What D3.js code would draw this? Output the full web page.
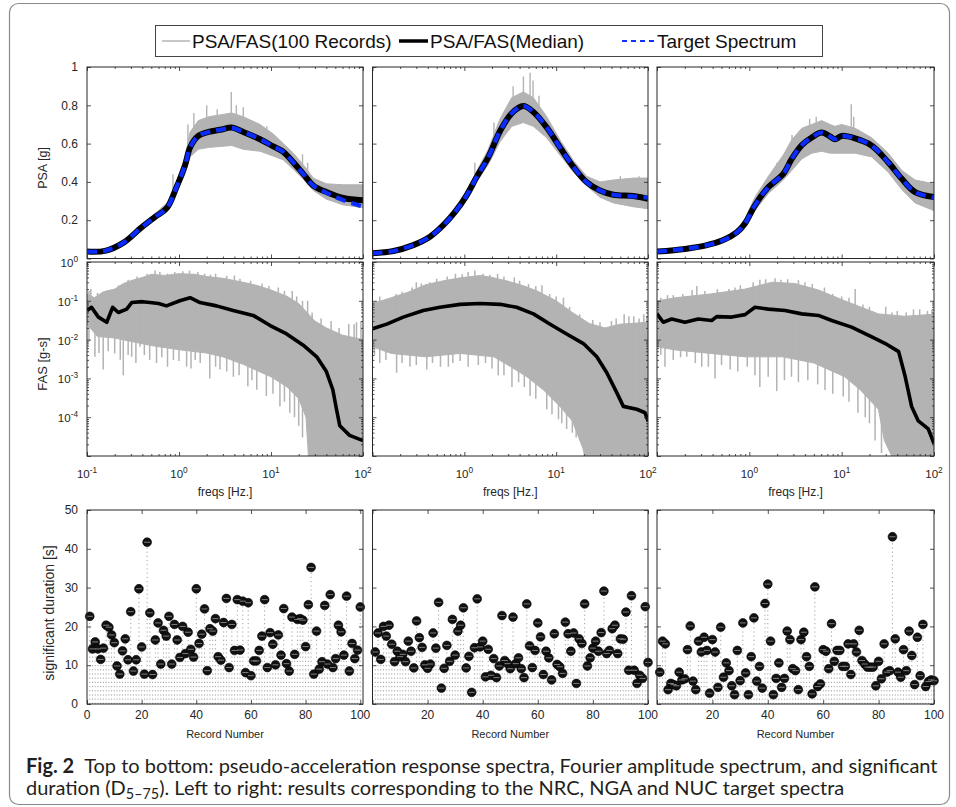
<!DOCTYPE html>
<html><head><meta charset="utf-8">
<script src="https://cdn.jsdelivr.net/npm/d3@7/dist/d3.min.js"></script>
<style>
body{margin:0;background:#fff}
svg{display:block}
text{font-family:"Liberation Sans",Arial,sans-serif}
</style>
</head><body>
<svg id="c" width="956" height="807"></svg>
<script>
// ---------------- DATA ----------------
const panelNames = ["NRC", "NGA", "NUC"];
const legendLabels = ["PSA/FAS(100 Records)", "PSA/FAS(Median)", "Target Spectrum"];
const psaTicks = [0, 0.2, 0.4, 0.6, 0.8, 1];
const psaTickLabels = ["", "0.2", "0.4", "0.6", "0.8", "1"]; // "0" merges with the 10^0 label below
const fasYTickExp = [0, -1, -2, -3, -4];
const freqTickExp = [-1, 0, 1, 2];
const durTicks = [0, 10, 20, 30, 40, 50];
const recTicks = [0, 20, 40, 60, 80, 100];

// PSA (NRC)
const psaFreqNRC = [0.1, 0.157, 0.25, 0.38, 0.55, 0.74, 0.94, 1.16, 1.32, 1.62, 2.1, 2.8, 3.75, 5.0, 7.6, 10.6, 13.6, 17.5, 22.4, 28.8, 40, 61, 100];
const psaMedNRC = [0.036, 0.040, 0.083, 0.157, 0.217, 0.264, 0.373, 0.485, 0.58, 0.64, 0.661, 0.672, 0.684, 0.661, 0.623, 0.585, 0.557, 0.502, 0.442, 0.381, 0.347, 0.316, 0.304];
const psaTgtNRC = [0.036, 0.040, 0.083, 0.157, 0.217, 0.264, 0.373, 0.485, 0.58, 0.64, 0.661, 0.672, 0.682, 0.661, 0.623, 0.585, 0.557, 0.502, 0.442, 0.381, 0.343, 0.305, 0.27];
const psaLowNRC = [0.034, 0.038, 0.078, 0.15, 0.205, 0.25, 0.35, 0.44, 0.53, 0.57, 0.58, 0.585, 0.59, 0.57, 0.56, 0.535, 0.515, 0.465, 0.415, 0.355, 0.31, 0.28, 0.265];
const psaHighNRC = [0.038, 0.043, 0.09, 0.17, 0.235, 0.29, 0.40, 0.53, 0.66, 0.72, 0.74, 0.75, 0.76, 0.74, 0.70, 0.65, 0.60, 0.55, 0.49, 0.42, 0.39, 0.385, 0.385];
const psaSpikeNRC = [[0.86, 0.44], [1.25, 0.7], [1.45, 0.76], [2.0, 0.80], [2.6, 0.78], [3.7, 0.87], [4.2, 0.8], [5.0, 0.79], [9, 0.69], [22, 0.545], [25, 0.5]];

// PSA (NGA)
const psaFreqNGA = [0.1, 0.169, 0.278, 0.423, 0.59, 0.793, 1.06, 1.36, 1.82, 2.45, 3.28, 4.39, 5.65, 7.9, 11, 15.5, 21.4, 30, 42, 69.5, 100];
const psaMedNGA = [0.027, 0.039, 0.07, 0.114, 0.174, 0.243, 0.33, 0.425, 0.528, 0.666, 0.758, 0.796, 0.765, 0.684, 0.58, 0.477, 0.399, 0.355, 0.333, 0.326, 0.312];
const psaTgtNGA = [0.027, 0.039, 0.07, 0.114, 0.174, 0.243, 0.33, 0.425, 0.528, 0.666, 0.758, 0.796, 0.765, 0.684, 0.58, 0.477, 0.399, 0.355, 0.333, 0.324, 0.318];
const psaLowNGA = [0.026, 0.037, 0.066, 0.108, 0.165, 0.23, 0.31, 0.40, 0.49, 0.61, 0.69, 0.71, 0.69, 0.63, 0.54, 0.45, 0.38, 0.32, 0.29, 0.27, 0.26];
const psaHighNGA = [0.029, 0.042, 0.075, 0.122, 0.185, 0.26, 0.355, 0.455, 0.57, 0.73, 0.84, 0.87, 0.84, 0.74, 0.62, 0.51, 0.43, 0.40, 0.41, 0.42, 0.42];
const psaSpikeNGA = [[1.3, 0.5], [2.1, 0.71], [3.4, 0.9], [4.4, 0.95], [5.2, 0.97], [5.6, 0.93], [6.5, 0.85], [50, 0.43], [80, 0.43]];

// PSA (NUC)
const psaFreqNUC = [0.1, 0.201, 0.331, 0.523, 0.73, 0.898, 1.15, 1.61, 2.33, 2.88, 3.7, 4.74, 6.08, 7.48, 8.47, 10, 14, 21.2, 32, 44.8, 62.4, 100];
const psaMedNUC = [0.036, 0.05, 0.067, 0.096, 0.136, 0.183, 0.278, 0.373, 0.442, 0.52, 0.592, 0.632, 0.658, 0.637, 0.623, 0.64, 0.627, 0.589, 0.502, 0.416, 0.347, 0.321];
const psaTgtNUC = [0.036, 0.05, 0.067, 0.096, 0.136, 0.183, 0.278, 0.373, 0.442, 0.52, 0.592, 0.632, 0.658, 0.637, 0.623, 0.64, 0.627, 0.589, 0.502, 0.416, 0.347, 0.318];
const psaLowNUC = [0.034, 0.047, 0.063, 0.09, 0.125, 0.165, 0.25, 0.34, 0.41, 0.46, 0.52, 0.55, 0.56, 0.55, 0.55, 0.55, 0.55, 0.53, 0.45, 0.36, 0.29, 0.25];
const psaHighNUC = [0.038, 0.053, 0.072, 0.104, 0.15, 0.21, 0.32, 0.43, 0.54, 0.62, 0.68, 0.70, 0.72, 0.70, 0.69, 0.70, 0.68, 0.63, 0.55, 0.46, 0.41, 0.39];
const psaSpikeNUC = [[1.3, 0.36], [2.0, 0.5], [2.9, 0.645], [4.5, 0.73], [5.3, 0.74], [12.7, 0.805], [13.5, 0.74]];

// FAS (NRC)
const fasMedFreqNRC = [0.1, 0.112, 0.133, 0.164, 0.19, 0.219, 0.27, 0.306, 0.4, 0.484, 0.6, 0.73, 1.02, 1.32, 1.69, 2.56, 3.88, 6.4, 9.8, 14.8, 22.4, 31.4, 40, 47, 51.5, 56, 71.5, 100];
const fasMedNRC = [0.056, 0.068, 0.038, 0.028, 0.068, 0.05, 0.061, 0.09, 0.095, 0.09, 0.085, 0.074, 0.1, 0.12, 0.09, 0.074, 0.056, 0.042, 0.023, 0.014, 0.0072, 0.0036, 0.0015, 0.00051, 0.00016, 0.00006, 0.000034, 0.000025];
const fasUpNRC = [[0.1, 0.15], [0.12, 0.12], [0.15, 0.17], [0.2, 0.2], [0.25, 0.28], [0.3, 0.33], [0.4, 0.4], [0.5, 0.48], [0.7, 0.45], [1.0, 0.5], [1.5, 0.48], [2, 0.42], [3, 0.38], [5, 0.3], [7, 0.25], [10, 0.19], [15, 0.13], [20, 0.085], [30, 0.03], [40, 0.02], [60, 0.013], [100, 0.01]];
const fasLowNRC = [[0.1, 0.025], [0.13, 0.012], [0.2, 0.011], [0.3, 0.009], [0.5, 0.007], [1, 0.0055], [2, 0.0045], [3, 0.0036], [5, 0.0023], [7, 0.0016], [10, 0.0011], [15, 0.0006], [20, 0.0003], [24, 0.0001], [26, 0.000005], [100, 0.000005]];
const fasDownNRC = [[0.105, 0.009], [0.122, 0.0036], [0.135, 0.0045], [0.15, 0.0017], [0.17, 0.005], [0.2, 0.0044], [0.23, 0.003], [0.248, 0.0012], [0.28, 0.004], [0.306, 0.0036], [0.34, 0.0025], [0.377, 0.0065], [0.42, 0.004], [0.48, 0.003], [0.57, 0.0025], [0.65, 0.0035], [0.75, 0.002], [0.87, 0.003], [1.0, 0.0028], [1.21, 0.002], [1.35, 0.0018], [1.5, 0.003], [1.7, 0.0025], [2.16, 0.001], [2.5, 0.002], [2.79, 0.0017], [3.3, 0.0015], [3.9, 0.0011], [4.5, 0.0012], [5.6, 0.00063], [6.2, 0.0009], [7.0, 0.00051], [8.9, 0.00035], [10.5, 0.0004], [12.5, 0.00019], [14, 0.00025], [16, 0.00013], [18, 0.0001], [20, 0.00006], [22, 0.00003]];
const fasPeakNRC = [[0.105, 0.18], [0.11, 0.2], [0.13, 0.16], [0.17, 0.19], [0.22, 0.25], [0.28, 0.35], [0.33, 0.36], [0.35, 0.42], [0.45, 0.5], [0.55, 0.6], [0.62, 0.55], [0.75, 0.5], [0.9, 0.55], [1.1, 0.58], [1.3, 0.6], [1.6, 0.55], [1.9, 0.5], [2.2, 0.47], [2.5, 0.5], [3.3, 0.44], [4, 0.45], [4.6, 0.37], [6, 0.33], [8, 0.28], [9.5, 0.24], [12, 0.22], [14, 0.18], [17, 0.18], [19, 0.13], [22, 0.1], [25, 0.1], [28, 0.05], [35, 0.035], [45, 0.03], [55, 0.02], [70, 0.025], [80, 0.025], [85, 0.028], [95, 0.03]];

// FAS (NGA)
const fasMedFreqNGA = [0.1, 0.143, 0.216, 0.357, 0.543, 0.9, 1.48, 2.45, 3.71, 5.65, 8.6, 13.0, 19.8, 27.7, 35.6, 45.7, 53.9, 75.5, 93, 100];
const fasMedNGA = [0.019, 0.025, 0.038, 0.056, 0.068, 0.081, 0.085, 0.081, 0.068, 0.046, 0.025, 0.014, 0.0079, 0.0036, 0.0014, 0.00043, 0.00019, 0.00016, 0.00013, 0.00008];
const fasUpNGA = [[0.1, 0.085], [0.16, 0.12], [0.25, 0.17], [0.38, 0.26], [0.6, 0.33], [0.9, 0.39], [1.5, 0.45], [2, 0.4], [3, 0.32], [4.5, 0.24], [6.2, 0.18], [10, 0.1], [15, 0.05], [23, 0.026], [34, 0.02], [50, 0.025], [100, 0.028]];
const fasLowNGA = [[0.1, 0.0065], [0.16, 0.0044], [0.38, 0.0036], [0.9, 0.0044], [2.1, 0.0036], [3.2, 0.002], [4.8, 0.0011], [7.3, 0.0005], [11, 0.00019], [15, 0.00008], [19.5, 0.000016], [22, 0.000005], [100, 0.000005]];
const fasDownNGA = [[0.105, 0.004], [0.12, 0.0025], [0.14, 0.003], [0.183, 0.0014], [0.21, 0.0025], [0.256, 0.002], [0.3, 0.0022], [0.39, 0.0017], [0.45, 0.0025], [0.55, 0.002], [0.67, 0.002], [0.75, 0.0025], [0.9, 0.0028], [1.1, 0.002], [1.42, 0.0022], [1.7, 0.0025], [2.0, 0.0018], [2.34, 0.0012], [2.7, 0.0012], [3.3, 0.0006], [3.9, 0.0008], [4.5, 0.0006], [5.2, 0.00035], [6, 0.0003], [7.9, 0.00016], [9, 0.00012], [10.6, 0.000089], [11.5, 0.00007], [13, 0.00005], [15, 0.00004], [16.5, 0.00003], [18.2, 0.000025]];
const fasPeakNGA = [[0.11, 0.1], [0.12, 0.13], [0.14, 0.11], [0.18, 0.15], [0.21, 0.17], [0.27, 0.22], [0.3, 0.3], [0.34, 0.28], [0.42, 0.3], [0.5, 0.37], [0.65, 0.42], [0.8, 0.5], [0.95, 0.48], [1.1, 0.55], [1.3, 0.6], [1.6, 0.5], [1.9, 0.47], [2.3, 0.5], [2.7, 0.42], [3.5, 0.4], [4, 0.33], [5, 0.27], [6, 0.24], [7, 0.25], [8.5, 0.15], [10, 0.13], [12, 0.12], [14, 0.07], [18, 0.045], [25, 0.032], [30, 0.028], [40, 0.03], [45, 0.035], [55, 0.045], [62, 0.04], [70, 0.04], [80, 0.035], [90, 0.045], [97, 0.04]];

// FAS (NUC)
const fasMedFreqNUC = [0.1, 0.117, 0.144, 0.201, 0.28, 0.391, 0.443, 0.645, 0.898, 1.15, 1.61, 2.44, 3.7, 5.6, 7.8, 12.8, 21.2, 29.7, 41.4, 48.8, 57.2, 67.6, 86.6, 100];
const fasMedNUC = [0.046, 0.028, 0.034, 0.028, 0.034, 0.031, 0.039, 0.038, 0.044, 0.068, 0.061, 0.056, 0.046, 0.042, 0.031, 0.021, 0.0118, 0.0079, 0.0049, 0.0011, 0.00019, 0.00008, 0.00005, 0.000021];
const fasUpNUC = [[0.1, 0.1], [0.16, 0.12], [0.38, 0.15], [0.9, 0.2], [1.75, 0.3], [3.1, 0.28], [5.6, 0.19], [10.8, 0.1], [25, 0.046], [48, 0.04], [100, 0.045]];
const fasLowNUC = [[0.1, 0.0065], [0.16, 0.0054], [0.38, 0.0044], [0.9, 0.0036], [2.3, 0.0036], [5.0, 0.0025], [10.8, 0.0011], [16, 0.0005], [25, 0.00016], [29, 0.000025], [40, 0.000005], [100, 0.000005]];
const fasDownNUC = [[0.11, 0.004], [0.122, 0.002], [0.15, 0.003], [0.18, 0.0035], [0.21, 0.0036], [0.26, 0.0025], [0.305, 0.002], [0.36, 0.002], [0.425, 0.001], [0.5, 0.0022], [0.62, 0.0017], [0.75, 0.0015], [0.95, 0.002], [1.15, 0.0012], [1.3, 0.0006], [1.6, 0.0011], [1.98, 0.00047], [2.4, 0.0009], [2.86, 0.0011], [3.4, 0.0008], [4.3, 0.0009], [5.5, 0.0007], [6.6, 0.0005], [8, 0.0004], [10.4, 0.00034], [12, 0.00025], [15, 0.00013], [18, 0.0001], [20, 0.00007], [23, 0.000025], [27, 0.000012]];
const fasPeakNUC = [[0.11, 0.12], [0.13, 0.14], [0.15, 0.14], [0.19, 0.15], [0.24, 0.19], [0.27, 0.24], [0.33, 0.18], [0.45, 0.2], [0.6, 0.2], [0.7, 0.22], [0.8, 0.25], [1.1, 0.3], [1.3, 0.35], [1.5, 0.36], [1.9, 0.38], [2.2, 0.35], [2.6, 0.36], [3.4, 0.34], [4, 0.3], [4.8, 0.27], [6.5, 0.22], [8, 0.15], [10, 0.13], [12, 0.12], [14, 0.2], [17, 0.08], [20, 0.07], [30, 0.07], [35, 0.05], [40, 0.055], [50, 0.05], [60, 0.06], [70, 0.06], [85, 0.055], [95, 0.06]];

// Significant duration D5-75 [s], records 1..100
const durNRC = [22.6, 14.2, 16.0, 14.2, 11.5, 14.4, 20.3, 19.8, 17.8, 15.8, 9.8, 7.7, 13.7, 16.8, 11.4, 23.8, 8.5, 11.4, 29.7, 14.7, 7.7, 41.7, 23.5, 7.6, 16.5, 20.9, 10.3, 19.0, 17.5, 22.6, 10.3, 20.5, 16.5, 12.0, 20.0, 13.0, 18.5, 14.1, 12.1, 29.7, 15.6, 18.0, 24.5, 8.6, 19.4, 18.8, 22.0, 12.2, 11.3, 21.0, 27.2, 9.4, 20.5, 13.8, 26.9, 13.9, 26.5, 8.1, 26.1, 7.3, 11.1, 11.1, 13.8, 17.5, 26.9, 9.4, 18.4, 15.4, 10.1, 17.8, 12.6, 24.6, 10.4, 8.5, 22.4, 12.8, 21.8, 22.0, 21.6, 14.8, 25.6, 35.2, 7.7, 18.8, 9.0, 10.9, 25.4, 10.3, 28.2, 9.4, 11.7, 20.3, 18.6, 12.6, 27.8, 8.5, 15.6, 11.7, 13.9, 25.0];
const durNGA = [13.4, 18.3, 11.5, 20.0, 17.5, 20.3, 15.4, 10.9, 13.6, 12.2, 12.8, 10.9, 16.2, 13.6, 9.3, 21.4, 17.1, 14.6, 10.1, 9.2, 10.3, 18.3, 14.4, 26.2, 4.1, 9.2, 15.1, 11.0, 21.8, 12.6, 18.8, 20.3, 24.8, 9.3, 12.3, 3.0, 14.5, 27.1, 14.7, 16.2, 7.0, 14.1, 7.4, 11.7, 6.8, 9.8, 22.8, 11.2, 10.4, 9.1, 22.4, 10.4, 11.9, 9.1, 6.8, 25.8, 15.0, 9.4, 13.8, 20.9, 17.3, 7.6, 13.6, 11.9, 6.2, 18.1, 10.2, 9.6, 7.9, 21.1, 18.1, 13.6, 18.3, 5.3, 16.8, 15.6, 25.8, 9.8, 11.9, 14.4, 16.2, 13.6, 18.4, 29.1, 13.0, 13.8, 19.4, 20.3, 13.0, 16.8, 16.7, 23.7, 8.7, 27.9, 8.7, 5.3, 7.4, 6.6, 25.1, 10.7];
const durNUC = [8.2, 16.2, 15.5, 3.7, 5.3, 5.0, 4.7, 8.2, 6.2, 6.5, 14.0, 20.1, 5.9, 3.7, 16.2, 13.4, 17.2, 13.8, 2.8, 16.6, 13.4, 4.3, 19.8, 6.9, 10.6, 8.6, 4.7, 2.4, 13.8, 6.0, 20.9, 8.0, 2.4, 12.2, 22.2, 5.9, 9.7, 4.1, 25.9, 30.9, 16.2, 2.4, 6.6, 10.6, 4.3, 6.6, 18.8, 16.6, 9.1, 8.6, 3.7, 16.6, 18.5, 12.2, 9.7, 2.6, 30.2, 4.5, 5.2, 14.0, 13.6, 9.1, 20.7, 11.0, 13.8, 13.8, 9.7, 9.7, 15.5, 7.6, 15.5, 13.4, 19.0, 11.2, 10.3, 9.5, 9.5, 9.5, 4.7, 11.0, 6.5, 15.5, 8.2, 8.6, 43.1, 16.8, 8.2, 6.9, 14.0, 8.6, 18.8, 12.5, 5.0, 17.2, 7.3, 20.5, 4.5, 5.8, 6.2, 6.0];

// ---------------- DRAW ----------------
const svg = d3.select("#c");
const AX = "#262626";
const GRAY = "#b3b3b3";

const panelX = [[87, 363], [372.5, 648], [657, 934]];
const psaY = [258.5, 67];
const fasY = [456, 262];
const durY = [704, 510];

const psaData = [
  {f: psaFreqNRC, med: psaMedNRC, tgt: psaTgtNRC, lo: psaLowNRC, hi: psaHighNRC, sp: psaSpikeNRC},
  {f: psaFreqNGA, med: psaMedNGA, tgt: psaTgtNGA, lo: psaLowNGA, hi: psaHighNGA, sp: psaSpikeNGA},
  {f: psaFreqNUC, med: psaMedNUC, tgt: psaTgtNUC, lo: psaLowNUC, hi: psaHighNUC, sp: psaSpikeNUC}
];
const fasData = [
  {f: fasMedFreqNRC, med: fasMedNRC, up: fasUpNRC, lo: fasLowNRC, dn: fasDownNRC, pk: fasPeakNRC},
  {f: fasMedFreqNGA, med: fasMedNGA, up: fasUpNGA, lo: fasLowNGA, dn: fasDownNGA, pk: fasPeakNGA},
  {f: fasMedFreqNUC, med: fasMedNUC, up: fasUpNUC, lo: fasLowNUC, dn: fasDownNUC, pk: fasPeakNUC}
];
const durData = [durNRC, durNGA, durNUC];

// outer frame
svg.append("rect").attr("x", 9.5).attr("y", 3.5).attr("width", 940).attr("height", 801)
  .attr("rx", 9).attr("fill", "none").attr("stroke", "#8a8a8a").attr("stroke-width", 1.2);

const defs = svg.append("defs");
let clipId = 0;
function clipRect(x0, x1, yb, yt) {
  const id = "clip" + (clipId++);
  defs.append("clipPath").attr("id", id).append("rect")
    .attr("x", x0).attr("y", yt).attr("width", x1 - x0).attr("height", yb - yt);
  return "url(#" + id + ")";
}

function ticksOn(g, scale, orient, pos, vals, len) {
  const ax = orient === "bottom" ? d3.axisBottom(scale) : orient === "top" ? d3.axisTop(scale)
    : orient === "left" ? d3.axisLeft(scale) : d3.axisRight(scale);
  ax.tickValues(vals).tickSize(-len).tickFormat("");
  const t = (orient === "bottom" || orient === "top") ? `translate(0,${pos})` : `translate(${pos},0)`;
  const a = g.append("g").attr("transform", t).call(ax);
  a.select(".domain").remove();
  a.selectAll("line").attr("stroke", AX).attr("stroke-width", 0.8);
}
function box(g, x0, x1, yb, yt) {
  g.append("rect").attr("x", x0).attr("y", yt).attr("width", x1 - x0).attr("height", yb - yt)
    .attr("fill", "none").attr("stroke", AX).attr("stroke-width", 1);
}
const isDecade = v => Math.abs(Math.log10(v) - Math.round(Math.log10(v))) < 1e-6;

function supLabel(g, x, y, anchor, exp, fs) {
  const t = g.append("text").attr("x", x).attr("y", y).attr("text-anchor", anchor)
    .attr("fill", AX).style("font-size", fs + "px");
  t.append("tspan").text("10");
  t.append("tspan").attr("dy", -5).style("font-size", (fs * 0.72) + "px").text(exp < 0 ? "-" + (-exp) : String(exp));
  return t;
}

panelX.forEach(([x0, x1], i) => {
  const g = svg.append("g");
  const xf = d3.scaleLog().domain([0.1, 100]).range([x0, x1]);
  const allF = xf.ticks();
  const majF = allF.filter(isDecade);
  const minF = allF.filter(v => !isDecade(v));

  // ---------- PSA ----------
  const yp = d3.scaleLinear().domain([0, 1]).range(psaY);
  const P = psaData[i];
  const gp = g.append("g").attr("clip-path", clipRect(x0, x1, psaY[0], psaY[1]));
  const band = P.f.map((f, k) => [xf(f), yp(P.hi[k])])
    .concat(P.f.map((f, k) => [xf(f), yp(P.lo[k])]).reverse());
  gp.append("path").attr("d", d3.line().curve(d3.curveLinearClosed)(band)).attr("fill", GRAY).attr("stroke", GRAY).attr("stroke-width", 1);
  const medP = d3.scaleLog().domain(P.f).range(P.med);
  gp.selectAll(".sp").data(P.sp).join("line")
    .attr("x1", d => xf(d[0])).attr("x2", d => xf(d[0]))
    .attr("y1", d => yp(medP(d[0]))).attr("y2", d => yp(d[1]))
    .attr("stroke", GRAY).attr("stroke-width", 1.4);
  const lineP = d3.line().x((d, k) => xf(P.f[k])).y(d => yp(d)).curve(d3.curveCatmullRom);
  gp.append("path").attr("d", lineP(P.med)).attr("fill", "none").attr("stroke", "#000").attr("stroke-width", 6);
  gp.append("path").attr("d", lineP(P.tgt)).attr("fill", "none").attr("stroke", "#0a2cff")
    .attr("stroke-width", 4.2).attr("stroke-dasharray", "10,6");
  ticksOn(g, xf, "bottom", psaY[0], majF, 4);
  ticksOn(g, xf, "bottom", psaY[0], minF, 2);
  ticksOn(g, xf, "top", psaY[1], majF, 4);
  ticksOn(g, xf, "top", psaY[1], minF, 2);
  ticksOn(g, yp, "left", x0, psaTicks, 4);
  ticksOn(g, yp, "right", x1, psaTicks, 4);
  box(g, x0, x1, psaY[0], psaY[1]);
  if (i === 0) {
    psaTicks.forEach((v, k) => {
      if (!psaTickLabels[k]) return;
      g.append("text").attr("x", 78).attr("y", yp(v)).attr("dy", "0.35em")
        .attr("text-anchor", "end").attr("fill", AX).style("font-size", "12px").text(psaTickLabels[k]);
    });
    g.append("text").attr("transform", "translate(47,168) rotate(-90)").attr("text-anchor", "middle")
      .attr("fill", AX).style("font-size", "12.5px").text("PSA [g]");
  }

  // ---------- FAS ----------
  const yl = d3.scaleLog().domain([1e-5, 1]).range(fasY);
  const F = fasData[i];
  const gf = g.append("g").attr("clip-path", clipRect(x0, x1, fasY[0], fasY[1]));
  const fband = F.up.map(d => [xf(d[0]), yl(d[1])]).concat(F.lo.map(d => [xf(d[0]), yl(d[1])]).reverse());
  gf.append("path").attr("d", d3.line().curve(d3.curveLinearClosed)(fband)).attr("fill", GRAY).attr("stroke", GRAY).attr("stroke-width", 1);
  const medF = d3.scaleLog().domain(F.f).range(F.med);
  gf.selectAll(".dn").data(F.dn.concat(F.pk)).join("line")
    .attr("x1", d => xf(d[0])).attr("x2", d => xf(d[0]))
    .attr("y1", d => yl(medF(d[0]))).attr("y2", d => yl(d[1]))
    .attr("stroke", GRAY).attr("stroke-width", 1.5);
  const lineF = d3.line().x((d, k) => xf(F.f[k])).y(d => yl(d));
  gf.append("path").attr("d", lineF(F.med)).attr("fill", "none").attr("stroke", "#000")
    .attr("stroke-width", 3.6).attr("stroke-linejoin", "round");
  const allY = yl.ticks();
  const majY = allY.filter(isDecade);
  const minY = allY.filter(v => !isDecade(v));
  ticksOn(g, xf, "bottom", fasY[0], majF, 4);
  ticksOn(g, xf, "bottom", fasY[0], minF, 2);
  ticksOn(g, xf, "top", fasY[1], majF, 4);
  ticksOn(g, xf, "top", fasY[1], minF, 2);
  ticksOn(g, yl, "left", x0, majY, 4);
  ticksOn(g, yl, "left", x0, minY, 2);
  ticksOn(g, yl, "right", x1, majY, 4);
  ticksOn(g, yl, "right", x1, minY, 2);
  box(g, x0, x1, fasY[0], fasY[1]);
  freqTickExp.forEach(e => {
    if (i > 0 && e === -1) return;
    supLabel(g, xf(Math.pow(10, e)), 478, "middle", e, 11.5);
  });
  g.append("text").attr("x", (x0 + x1) / 2).attr("y", 496).attr("text-anchor", "middle")
    .attr("fill", AX).style("font-size", "12px").text("freqs [Hz.]");
  if (i === 0) {
    fasYTickExp.forEach(e => supLabel(g, 78, yl(Math.pow(10, e)) + 5, "end", e, 11.5));
    g.append("text").attr("transform", "translate(47,364) rotate(-90)").attr("text-anchor", "middle")
      .attr("fill", AX).style("font-size", "13px").text("FAS [g-s]");
  }

  // ---------- Duration ----------
  const xr = d3.scaleLinear().domain([0, i === 0 ? 101 : 100]).range([x0, x1]);
  const yd = d3.scaleLinear().domain([0, 50]).range(durY);
  const D = durData[i];
  const gd = g.append("g");
  gd.selectAll(".stem").data(D).join("line")
    .attr("x1", (d, k) => xr(k + 1)).attr("x2", (d, k) => xr(k + 1))
    .attr("y1", yd(0)).attr("y2", d => yd(d))
    .attr("stroke", "#9a9a9a").attr("stroke-width", 0.9).attr("stroke-dasharray", "1.2,3");
  ticksOn(g, xr, "bottom", durY[0], recTicks, 4);
  ticksOn(g, xr, "top", durY[1], recTicks, 4);
  ticksOn(g, yd, "left", x0, durTicks, 4);
  ticksOn(g, yd, "right", x1, durTicks, 4);
  box(g, x0, x1, durY[0], durY[1]);
  gd.selectAll(".pt").data(D).join("circle")
    .attr("cx", (d, k) => xr(k + 1)).attr("cy", d => yd(d)).attr("r", 4.4)
    .attr("fill", "#111").attr("stroke", "#000").attr("stroke-width", 0.6);
  gd.selectAll(".ptl").data(D).join("line")
    .attr("x1", (d, k) => xr(k + 1) - 3).attr("x2", (d, k) => xr(k + 1) + 3)
    .attr("y1", d => yd(d)).attr("y2", d => yd(d))
    .attr("stroke", "#8a8a8a").attr("stroke-width", 0.9);
  recTicks.forEach(v => {
    if (i > 0 && v === 0) return;
    g.append("text").attr("x", xr(v)).attr("y", 715).attr("dy", "0.35em").attr("text-anchor", "middle")
      .attr("fill", AX).style("font-size", "12px").text(v);
  });
  g.append("text").attr("x", (x0 + x1) / 2).attr("y", 738).attr("text-anchor", "middle")
    .attr("fill", AX).style("font-size", "11px").text("Record Number");
  if (i === 0) {
    durTicks.forEach(v => g.append("text").attr("x", 78).attr("y", yd(v)).attr("dy", "0.35em")
      .attr("text-anchor", "end").attr("fill", AX).style("font-size", "12px").text(v));
    g.append("text").attr("transform", "translate(54,613) rotate(-90)").attr("text-anchor", "middle")
      .attr("fill", AX).style("font-size", "14px").text("significant duration [s]");
  }
});

// ---------- Legend ----------
const lg = svg.append("g");
lg.append("rect").attr("x", 155.5).attr("y", 25.5).attr("width", 667).attr("height", 31)
  .attr("fill", "#fff").attr("stroke", "#444").attr("stroke-width", 1);
const legY = 41;
lg.append("line").attr("x1", 162).attr("x2", 190).attr("y1", legY).attr("y2", legY).attr("stroke", "#b0b0b0").attr("stroke-width", 1.4);
lg.append("line").attr("x1", 399).attr("x2", 428).attr("y1", legY).attr("y2", legY).attr("stroke", "#000").attr("stroke-width", 3.5);
lg.append("line").attr("x1", 622).attr("x2", 655).attr("y1", legY).attr("y2", legY).attr("stroke", "#1030ff")
  .attr("stroke-width", 2).attr("stroke-dasharray", "5,4");
[[192, legendLabels[0]], [430, legendLabels[1]], [657, legendLabels[2]]].forEach(([x, t]) =>
  lg.append("text").attr("x", x).attr("y", legY).attr("dy", "0.36em").attr("fill", "#111")
    .style("font-size", "19px").text(t));

// ---------- Caption ----------
const capFont = "Lato, 'Open Sans', sans-serif";
const c1 = svg.append("text").attr("x", 26).attr("y", 773).attr("fill", "#231f20")
  .style("font-family", capFont).style("font-size", "18px");
c1.append("tspan").style("font-weight", "bold").text("Fig. 2");
c1.append("tspan").text("\u2002Top to bottom: pseudo-acceleration response spectra, Fourier amplitude spectrum, and significant");
const w1 = c1.node().getComputedTextLength();
const capSize = 18 * 912 / w1;
c1.style("font-size", capSize + "px");
const c2 = svg.append("text").attr("x", 26).attr("y", 795).attr("fill", "#231f20")
  .style("font-family", capFont).style("font-size", capSize + "px");
c2.append("tspan").text("duration (D");
c2.append("tspan").attr("dy", 4).style("font-size", (capSize * 0.72) + "px").text("5\u201375");
c2.append("tspan").attr("dy", -4).text("). Left to right: results corresponding to the NRC, NGA and NUC target spectra");
</script>
</body></html>
